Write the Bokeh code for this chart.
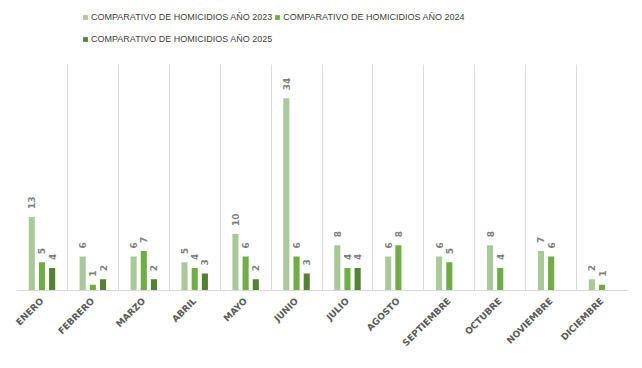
import math
from bokeh.plotting import figure
from bokeh.models import ColumnDataSource, Range1d, FixedTicker, Legend, LegendItem
from bokeh.core.properties import value
from bokeh.embed import file_html
from bokeh.resources import INLINE

months = ["ENERO", "FEBRERO", "MARZO", "ABRIL", "MAYO", "JUNIO", "JULIO",
          "AGOSTO", "SEPTIEMBRE", "OCTUBRE", "NOVIEMBRE", "DICIEMBRE"]
series_names = ["COMPARATIVO DE HOMICIDIOS AÑO 2023",
                "COMPARATIVO DE HOMICIDIOS AÑO 2024",
                "COMPARATIVO DE HOMICIDIOS AÑO 2025"]
h2023 = [13, 6, 6, 5, 10, 34, 8, 6, 6, 8, 7, 2]
h2024 = [5, 1, 7, 4, 6, 6, 4, 8, 5, 4, 6, 1]
h2025 = [4, 2, 2, 3, 2, 3, 4, None, None, None, None, None]
colors = ["#A9C99A", "#70AD47", "#548235"]
offsets = [-0.2, 0.0, 0.2]
y_axis_max = 40

p = figure(width=633, height=359, output_backend="svg", toolbar_location=None,
           x_range=Range1d(0, len(months)), y_range=Range1d(0, 51.3),
           min_border_left=16, min_border_right=6, min_border_top=0, min_border_bottom=69)
p.outline_line_color = None
p.background_fill_color = "white"
p.border_fill_color = "white"

centers = [i + 0.5 for i in range(len(months))]
items = []
for name, vals, col, off in zip(series_names, [h2023, h2024, h2025], colors, offsets):
    xs = [c + off for c, v in zip(centers, vals) if v is not None]
    ys = [v for v in vals if v is not None]
    src = ColumnDataSource(dict(x=xs, top=ys, lab=[str(v) for v in ys]))
    r = p.vbar(x="x", top="top", width=0.12, bottom=0, source=src,
               fill_color=col, line_color=None)
    p.text(x="x", y="top", text="lab", source=src, angle=math.pi / 2,
           y_offset=-8, text_align="left", text_baseline="middle",
           text_font=value("DejaVu Sans"), text_font_size="9px",
           text_color="#7F7F7F", text_font_style="bold")
    items.append(LegendItem(label=name, renderers=[r]))

def make_legend(its, loc):
    return Legend(items=its, orientation="horizontal",
                  location=loc, margin=0, padding=0, spacing=2,
                  glyph_width=6, glyph_height=6, label_standoff=3,
                  label_height=18, label_text_font="Liberation Sans",
                  label_text_font_size="9px", label_text_color="#404040",
                  border_line_color=None, background_fill_alpha=0)

p.add_layout(make_legend(items[:2], (66, 264)), "center")
p.add_layout(make_legend(items[2:], (66, 242)), "center")

p.yaxis.visible = False
p.ygrid.visible = False
grid_ticks = list(range(len(months) + 1))
try:
    p.xgrid.ticker = FixedTicker(ticks=grid_ticks)
    p.xgrid.grid_line_color = "#D9D9D9"
    p.xgrid.grid_line_width = 1
    p.xgrid.cross_bounds = (0, y_axis_max)
except Exception:
    p.xgrid.visible = False
    p.segment(x0=grid_ticks, x1=grid_ticks, y0=[0] * len(grid_ticks),
              y1=[y_axis_max] * len(grid_ticks), line_color="#D9D9D9", line_width=1,
              level="underlay")

p.xaxis.ticker = FixedTicker(ticks=centers)
p.xaxis.major_label_overrides = {c: m for c, m in zip(centers, months)}
p.xaxis.major_label_orientation = math.pi / 4
p.xaxis.major_tick_line_color = None
p.xaxis.minor_tick_line_color = None
p.xaxis.axis_line_color = "#D9D9D9"
p.xaxis.major_label_text_font = "DejaVu Sans"
p.xaxis.major_label_text_font_size = "9px"
p.xaxis.major_label_text_font_style = "bold"
p.xaxis.major_label_text_color = "#595959"
p.xaxis.major_label_standoff = 3

open("out.html", "w").write(file_html(p, INLINE))
